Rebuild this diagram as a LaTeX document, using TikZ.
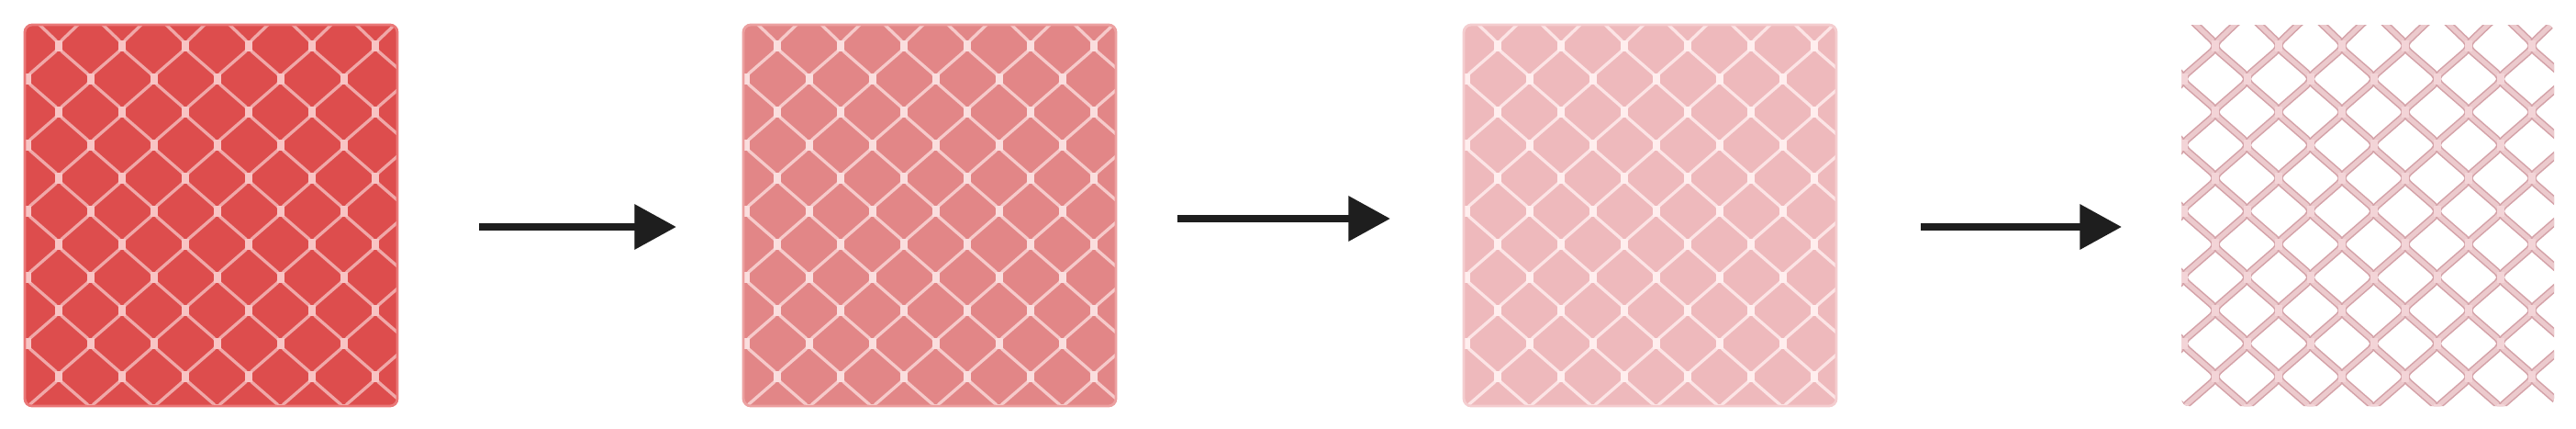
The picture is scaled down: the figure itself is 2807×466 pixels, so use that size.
\documentclass[tikz,border=0pt]{standalone}
\usetikzlibrary{arrows.meta}

\definecolor{meshA}{RGB}{221,77,77}
\definecolor{meshB}{RGB}{226,134,135}
\definecolor{meshC}{RGB}{238,185,188}
\definecolor{edgeA}{RGB}{234,120,120}
\definecolor{edgeB}{RGB}{236,160,160}
\definecolor{edgeC}{RGB}{244,205,207}
\definecolor{wireA}{RGB}{240,168,168}
\definecolor{wireB}{RGB}{246,202,202}
\definecolor{wireC}{RGB}{252,228,229}
\definecolor{wireD}{RGB}{236,202,205}
\definecolor{wireDedge}{RGB}{212,162,168}
\definecolor{knotA}{RGB}{248,196,196}
\definecolor{knotB}{RGB}{250,222,222}
\definecolor{knotC}{RGB}{255,238,238}
\definecolor{knotD}{RGB}{243,212,215}
\definecolor{arrowgrey}{RGB}{30,30,30}

\tikzset{
  wire/.style={line width=0.95pt, rounded corners=1.5pt, line join=round},
  flow/.style={line width=2.4pt, color=arrowgrey, -{Triangle[length=13pt,width=13.5pt]}}
}

% #1 left edge, #2 fill, #3 wire options, #4 knot colour, #5 edge colour
\newcommand{\chainpanel}[5]{%
  \begin{scope}
    \fill[#2, rounded corners=2.3pt] (#1,27) rectangle ++(406,415);
    \clip[rounded corners=2.3pt] (#1,27) rectangle ++(406,415);
    \foreach \k in {-2,...,12}{
      \pgfmathsetmacro{\sx}{#1+37+34.5*(\k+mod(\k+99,2))}
      \draw[wire,#3] (\sx,14) \foreach \j [evaluate=\j as \wx using {#1+37+34.5*(\k+mod(\j+\k+100,2))}] in {0,...,12}{ -- (\wx,47+36*\j) -- (\wx,53+36*\j) };
    }
    \foreach \j in {0,...,11}
      \foreach \i in {-1,...,6}
        \fill[#4] ({#1+37+69*\i+34.5*mod(\j,2)-4},{44+36*\j}) rectangle ++(8,12);
  \end{scope}
  \draw[draw=#5, line width=0.8pt, rounded corners=2.3pt] (#1,27) rectangle ++(406,415);
}

\begin{document}
\begin{tikzpicture}[x=0.01cm, y=-0.01cm]
  \useasboundingbox (0,0) rectangle (2807,466);

  %%% panels
  \chainpanel{27}{meshA}{color=wireA}{knotA}{edgeA}
  \chainpanel{810}{meshB}{color=wireB}{knotB}{edgeB}
  \chainpanel{1595}{meshC}{color=wireC}{knotC}{edgeC}
  \chainpanel{2377}{white}{draw=wireDedge, line width=0.45pt, double=wireD, double distance=1.4pt}{knotD}{none}

  %%% arrows
  \coordinate (a1s) at (522,247);
  \coordinate (a1e) at (737,247);
  \coordinate (a2s) at (1283,238);
  \coordinate (a2e) at (1515,238);
  \coordinate (a3s) at (2093,247);
  \coordinate (a3e) at (2312,247);
  \draw[flow] (a1s) -- (a1e);
  \draw[flow] (a2s) -- (a2e);
  \draw[flow] (a3s) -- (a3e);
\end{tikzpicture}
\end{document}
